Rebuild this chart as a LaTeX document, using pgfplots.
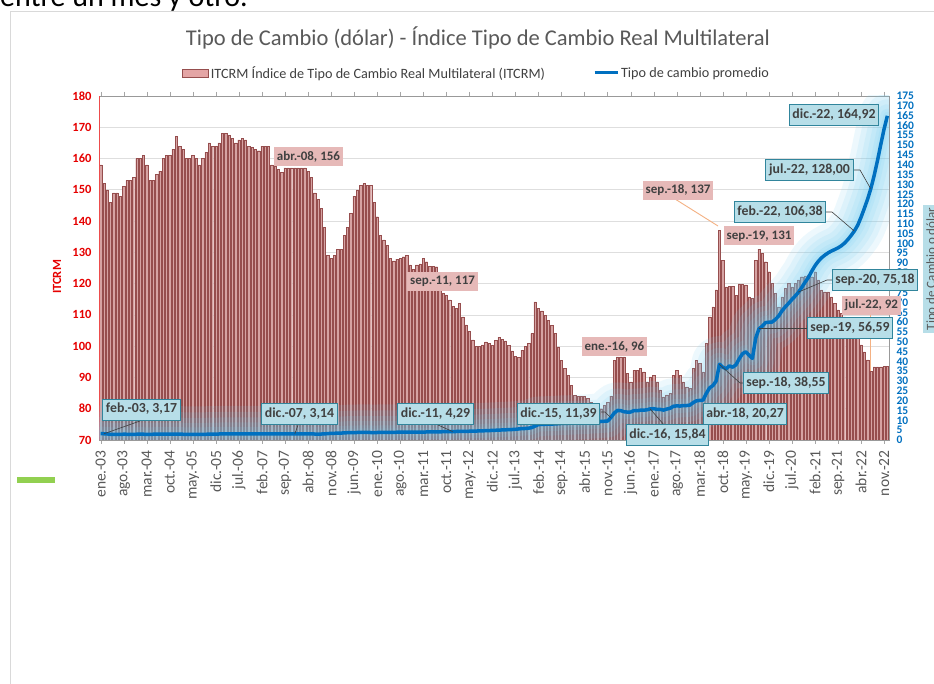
\documentclass[border=0pt]{standalone}
\usepackage{pgfplots}
\pgfplotsset{compat=1.18}
\usepackage{pgfplotstable}
\usepackage{fontspec}
\setmainfont{Carlito}
\definecolor{barfill}{RGB}{214,163,163}
\definecolor{baredge}{RGB}{150,78,78}
\definecolor{lineblue}{RGB}{0,112,192}
\definecolor{glow}{RGB}{110,205,242}
\definecolor{tickred}{RGB}{230,0,0}
\definecolor{gridgray}{RGB}{222,222,222}
\definecolor{txtgray}{RGB}{89,89,89}
\definecolor{darktxt}{RGB}{64,64,64}
\definecolor{pinkbox}{RGB}{230,185,184}
\definecolor{bluebox}{RGB}{183,222,232}
\definecolor{blueedge}{RGB}{49,133,156}
\definecolor{orangeline}{RGB}{244,177,131}
\definecolor{framegray}{RGB}{217,217,217}
\definecolor{greendash}{RGB}{146,208,80}
\definecolor{legpink}{RGB}{228,165,165}

\pgfplotstableread[row sep=\\]{
v\\
158\\152\\150\\146\\149\\149\\148\\151\\153\\153\\154\\160\\
160\\161\\158\\153\\153\\155\\156\\160\\161\\161\\163\\167\\
164\\163\\160\\160\\161\\160\\158\\160\\162\\165\\164\\164\\
165\\168\\168\\167.5\\166.5\\165\\166\\166.5\\166\\164\\163.5\\163\\
162.5\\164\\164\\164\\158\\157.5\\156.5\\155.5\\157\\157\\157\\157\\
157\\157\\157\\156\\154\\149\\147\\144\\138\\129\\128\\129\\
131\\131\\135.5\\138\\142.5\\148\\150\\151.5\\152\\151.5\\151.5\\146\\
141.4\\135.5\\134\\132.3\\128.1\\127.3\\127.8\\128.1\\128.6\\129.1\\126\\124.6\\
126\\126.3\\128.1\\127\\125.6\\125.6\\125.4\\121\\117\\116.4\\114.8\\112.7\\
112.1\\113.7\\109.4\\106.8\\104.7\\102\\100\\100\\100.4\\101.4\\100.9\\100.3\\
101.9\\102.8\\102.1\\101.7\\100.3\\98.5\\96.8\\96.4\\98.7\\100\\100.9\\104\\
114.2\\112\\111.3\\109.9\\108.3\\106.7\\104\\99.8\\95.5\\92.9\\90.7\\87.5\\
84.3\\84\\84\\84\\83.3\\82\\81\\80\\80\\81\\82\\84\\
95.5\\96.6\\96.6\\96.6\\91.3\\88.6\\92.3\\92.3\\92.9\\91.8\\88.6\\90.2\\
90.7\\88.6\\86\\83.8\\84.4\\84.9\\90.7\\92.3\\90.7\\88.6\\87\\86.5\\
92.9\\95.5\\94.5\\91.8\\100.9\\109.4\\112.6\\118\\137\\127.5\\119\\119.2\\
119.2\\116.3\\119.9\\119.9\\119.6\\115.8\\115.3\\127.5\\131\\129.7\\127\\123.8\\
120.1\\116.9\\112.6\\115.8\\118.5\\120.1\\119\\120.1\\121.2\\122.2\\122.5\\122.8\\
122.2\\123.8\\121.2\\118\\117.4\\117.4\\115.8\\113.7\\111.6\\110.5\\109.4\\108.4\\
106.8\\105.2\\103\\100.4\\98.2\\95.6\\92\\93.4\\93.4\\93.4\\93.6\\93.6\\
}\itcrm

\pgfplotstableread[row sep=\\]{
v\\
3.32\\3.17\\3.08\\2.90\\2.84\\2.82\\2.80\\2.95\\2.91\\2.86\\2.86\\2.93\\
2.93\\2.93\\2.88\\2.84\\2.93\\2.96\\2.96\\3.00\\2.99\\2.96\\2.94\\2.97\\
2.95\\2.92\\2.92\\2.91\\2.89\\2.88\\2.86\\2.88\\2.91\\2.97\\2.97\\3.01\\
3.05\\3.08\\3.08\\3.06\\3.05\\3.08\\3.08\\3.08\\3.10\\3.10\\3.07\\3.06\\
3.10\\3.10\\3.10\\3.09\\3.08\\3.09\\3.10\\3.16\\3.16\\3.17\\3.14\\3.14\\
3.15\\3.16\\3.16\\3.17\\3.15\\3.04\\3.02\\3.04\\3.10\\3.27\\3.35\\3.42\\
3.46\\3.50\\3.64\\3.70\\3.73\\3.77\\3.82\\3.84\\3.85\\3.83\\3.81\\3.80\\
3.81\\3.86\\3.87\\3.88\\3.91\\3.93\\3.94\\3.94\\3.95\\3.96\\3.98\\3.98\\
4.00\\4.03\\4.05\\4.07\\4.08\\4.10\\4.13\\4.18\\4.20\\4.22\\4.26\\4.29\\
4.32\\4.35\\4.36\\4.40\\4.45\\4.50\\4.55\\4.61\\4.66\\4.73\\4.79\\4.88\\
4.95\\5.02\\5.12\\5.18\\5.28\\5.33\\5.44\\5.62\\5.79\\5.85\\6.01\\6.32\\
7.08\\7.85\\7.93\\8.00\\8.04\\8.13\\8.14\\8.30\\8.42\\8.48\\8.51\\8.55\\
8.64\\8.71\\8.80\\8.90\\8.97\\9.09\\9.20\\9.33\\9.42\\9.53\\9.65\\11.39\\
13.64\\15.03\\14.95\\14.38\\14.19\\14.23\\14.94\\14.90\\15.15\\15.17\\15.38\\15.84\\
15.91\\15.60\\15.55\\15.20\\15.73\\16.13\\17.16\\17.35\\17.26\\17.49\\17.52\\17.74\\
19.00\\19.92\\20.15\\20.27\\23.70\\26.54\\27.66\\30.04\\38.55\\37.02\\36.26\\37.70\\
37.04\\38.22\\41.34\\43.91\\44.87\\43.14\\41.50\\51.79\\56.59\\57.88\\59.73\\59.90\\
60.01\\61.38\\63.10\\65.73\\67.73\\69.53\\71.45\\73.23\\75.18\\77.62\\80.27\\82.64\\
85.79\\88.59\\90.88\\92.67\\94.03\\95.19\\96.14\\96.88\\97.72\\98.78\\100.18\\101.97\\
104.06\\106.38\\109.27\\113.27\\117.81\\122.51\\128.00\\134.64\\142.12\\150.31\\158.18\\164.92\\
}\tcambio

\tikzset{
 pb/.style={fill=pinkbox, text=darktxt, font=\fontsize{13}{13}\selectfont\bfseries, inner xsep=3pt, inner ysep=3.5pt, text height=9.5pt, text depth=2.5pt},
 bb/.style={fill=bluebox, draw=blueedge, line width=0.9pt, text=darktxt, font=\fontsize{13.8}{13.8}\selectfont\bfseries, inner xsep=3.2pt, inner ysep=4pt, text height=10pt, text depth=3pt},
 ld/.style={draw=black!75, line width=0.6pt},
 lo/.style={draw=orangeline, line width=0.9pt},
 gl/.style={glow, opacity=0.12, line join=round, line cap=round}
}

\begin{document}
\begin{tikzpicture}[x=1pt,y=1pt]
\useasboundingbox (0,0) rectangle (934,684);
\clip (0,0) rectangle (934,684);
\fill[white] (0,0) rectangle (934,684);
\node[anchor=base west, font=\fontsize{30}{30}\selectfont, inner sep=0pt] at (0,677) {entre un mes y otro.};
\draw[framegray, line width=1pt] (10,-5) -- (10,672) -- (940,672);
\fill[greendash] (17,201) rectangle (55,207);

\begin{axis}[
  at={(99pt,244pt)}, anchor=south west, width=790pt, height=344pt, scale only axis,
  xmin=-0.5, xmax=239.5, ymin=70, ymax=180,
  ytick={70,80,...,180},
  xtick={0,7,...,238},
  xticklabels={ene.-03,ago.-03,mar.-04,oct.-04,may.-05,dic.-05,jul.-06,feb.-07,sep.-07,abr.-08,nov.-08,jun.-09,ene.-10,ago.-10,mar.-11,oct.-11,may.-12,dic.-12,jul.-13,feb.-14,sep.-14,abr.-15,nov.-15,jun.-16,ene.-17,ago.-17,mar.-18,oct.-18,may.-19,dic.-19,jul.-20,feb.-21,sep.-21,abr.-22,nov.-22},
  x tick label style={rotate=90, anchor=east, xshift=-3pt, font=\fontsize{15.5}{15.5}\selectfont, text=txtgray},
  y tick label style={font=\fontsize{12.5}{12.5}\selectfont\bfseries, text=tickred},
  /pgf/number format/assume math mode=true,
  ymajorgrids, grid style={gridgray, line width=0.8pt},
  axis line style={draw=gray!80, line width=0.8pt},
  tick align=outside, major tick length=4pt,
  xtick style={draw=gray!70}, ytick style={draw=none},
  ybar, bar width=0.7,
  legend style={at={(0.478,1.067)}, anchor=center, draw=none, fill=none, legend columns=2,
    font=\fontsize{14.2}{14.2}\selectfont, text=darktxt,
    /tikz/every even column/.append style={column sep=46pt}},
  legend cell align=left,
]
\addplot[fill=barfill, draw=baredge, line width=0.4pt,
  legend image code/.code={\draw[fill=legpink, draw=baredge, line width=0.5pt] (0pt,-4pt) rectangle (26pt,4pt);}]
  table[x expr=\coordindex, y=v] {\itcrm};
\addlegendentry{ITCRM Índice de Tipo de Cambio Real Multilateral (ITCRM)}
\addlegendimage{legend image code/.code={\draw[lineblue, line width=3pt] (0pt,0pt) -- (23pt,0pt);}}
\addlegendentry{Tipo de cambio promedio}
\draw[tickred!70, line width=1.2pt] (rel axis cs:0,0) -- (rel axis cs:0,1);
\end{axis}

\begin{axis}[
  at={(99pt,244pt)}, anchor=south west, width=790pt, height=344pt, scale only axis,
  xmin=-0.5, xmax=239.5, ymin=0, ymax=175,
  axis x line=none, axis y line*=right,
  ytick={0,5,...,175},
  y tick label style={font=\fontsize{11.5}{11.5}\selectfont\bfseries, text=lineblue},
  /pgf/number format/assume math mode=true,
  ytick style={draw=none}, tick align=outside, major tick length=4pt,
  axis line style={draw=gray!80, line width=0.8pt},
]
\addplot[gl, line width=56pt] table[x expr=\coordindex, y=v] {\tcambio};
\addplot[gl, line width=44pt] table[x expr=\coordindex, y=v] {\tcambio};
\addplot[gl, line width=33pt] table[x expr=\coordindex, y=v] {\tcambio};
\addplot[gl, line width=23pt] table[x expr=\coordindex, y=v] {\tcambio};
\addplot[gl, line width=14pt] table[x expr=\coordindex, y=v] {\tcambio};
\addplot[gl, line width=8pt] table[x expr=\coordindex, y=v] {\tcambio};
\addplot[lineblue, line width=3.5pt, line join=round] table[x expr=\coordindex, y=v] {\tcambio};
\end{axis}

% title and axis titles
\node[text=txtgray, font=\fontsize{22.5}{22.5}\selectfont] at (478,646) {Tipo de Cambio (dólar) - Índice Tipo de Cambio Real Multilateral};
\node[rotate=90, text=tickred, font=\fontsize{12.5}{12.5}\selectfont\bfseries] at (57,407) {ITCRM};
\node[rotate=90, fill=bluebox, text=txtgray, font=\fontsize{13}{13}\selectfont, inner sep=3pt] at (932,415) {Tipo de Cambio o dólar};

% leader lines
\draw[ld] (103.9,250.2) -- (140,263);
\draw[ld] (294.8,250.2) -- (298,259);
\draw[ld] (452.7,252.4) -- (438,259);
\draw[ld] (601,272) -- (605,272) -- (610.6,266.4);
\draw[ld] (650.1,275.1) -- (665,258);
\draw[ld] (719.2,319.8) -- (740,301) -- (744,301);
\draw[ld] (758.7,355.3) -- (808,355.3);
\draw[ld] (798.1,391.8) -- (827,404) -- (833,404);
\draw[ld] (854.1,453.1) -- (832,472) -- (826,472);
\draw[ld] (870.5,495.6) -- (860,514) -- (854,514);
\draw[lo] (870.5,312.8) -- (870.5,371);
\draw[lo] (718,458) -- (675,485);

% labels
\node[pb] at (308.5,527) {abr.-08, 156};
\node[pb] at (442.5,402.5) {sep.-11, 117};
\node[pb] at (614.5,337) {ene.-16, 96};
\node[pb] at (678,493.5) {sep.-18, 137};
\node[pb] at (759,448) {sep.-19, 131};
\node[pb] at (871.5,378.5) {jul.-22, 92};
\node[bb] at (141.5,274.5) {feb.-03, 3,17};
\node[bb] at (299.5,270) {dic.-07, 3,14};
\node[bb] at (435.5,270) {dic.-11, 4,29};
\node[bb] at (558.5,270) {dic.-15, 11,39};
\node[bb] at (667.5,249) {dic.-16, 15,84};
\node[bb] at (745,270) {abr.-18, 20,27};
\node[bb] at (786,301) {sep.-18, 38,55};
\node[bb] at (850,356) {sep.-19, 56,59};
\node[bb] at (875,404) {sep.-20, 75,18};
\node[bb] at (780,472) {feb.-22, 106,38};
\node[bb] at (809.5,514) {jul.-22, 128,00};
\node[bb] at (834,569) {dic.-22, 164,92};
\end{tikzpicture}
\end{document}
